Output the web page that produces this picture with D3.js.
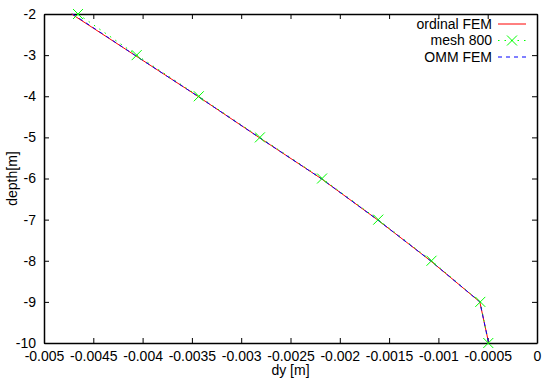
<!DOCTYPE html>
<html>
<head>
<meta charset="utf-8">
<script src="https://cdn.jsdelivr.net/npm/d3@7"></script>
<style>
body { margin: 0; background: #fff; }
svg text { font-family: "Liberation Sans", Arial, sans-serif; font-size: 14px; }
</style>
</head>
<body>
<div class="visHolder"></div>
<script>
var depth = [-2, -3, -4, -5, -6, -7, -8, -9, -10]
var ordinalFEM = [-0.00472, -0.00408, -0.00344, -0.00282, -0.00219, -0.00162, -0.00108, -0.00058, -0.00049]
var mesh800 = [-0.004655, -0.00406, -0.00343, -0.00281, -0.00218, -0.00161, -0.00107, -0.000575, -0.000494]
var ommFEM = [-0.00471, -0.00408, -0.00344, -0.00282, -0.00219, -0.00162, -0.00108, -0.00058, -0.00049]
var xTicks = [-0.005, -0.0045, -0.004, -0.0035, -0.003, -0.0025, -0.002, -0.0015, -0.001, -0.0005, 0]
var yTicks = [-2, -3, -4, -5, -6, -7, -8, -9, -10]
var seriesNames = ["ordinal FEM", "mesh 800", "OMM FEM"]

var width = 542
height = 378
margin = {left: 44, right: 5, top: 14, bottom: 35}

var svg = d3.select('.visHolder')
    .append('svg')
    .attr('width', width)
    .attr('height', height)

var xScale = d3.scaleLinear()
    .domain([-0.005, 0])
    .range([margin.left, width - margin.right])

var yScale = d3.scaleLinear()
    .domain([-10, -2])
    .range([height - margin.bottom, margin.top])

var fmt = d => d === 0 ? "0" : String(d)

// axes with inward ticks, mirrored on top and right
svg.append("g")
    .attr("transform", `translate(0,${yScale(-10)})`)
    .call(d3.axisBottom(xScale).tickValues(xTicks).tickFormat(fmt).tickSizeInner(-5).tickSizeOuter(0).tickPadding(8))
svg.append("g")
    .attr("transform", `translate(0,${yScale(-2)})`)
    .call(d3.axisTop(xScale).tickValues(xTicks).tickFormat("").tickSizeInner(-5).tickSizeOuter(0))
svg.append("g")
    .attr("transform", `translate(${xScale(-0.005)},0)`)
    .call(d3.axisLeft(yScale).tickValues(yTicks).tickFormat(fmt).tickSizeInner(-5).tickSizeOuter(0).tickPadding(8))
svg.append("g")
    .attr("transform", `translate(${xScale(0)},0)`)
    .call(d3.axisRight(yScale).tickValues(yTicks).tickFormat("").tickSizeInner(-5).tickSizeOuter(0))

svg.selectAll(".domain").attr("stroke", "#000").attr("stroke-width", 1.5)
svg.selectAll(".tick line").attr("stroke", "#000")
svg.selectAll(".tick text").attr("fill", "#000").style("font-size", "14px")

svg.append("text")
    .attr("x", (xScale(-0.005) + xScale(0)) / 2)
    .attr("y", height - 3)
    .attr("text-anchor", "middle")
    .text("dy [m]")

svg.append("text")
    .attr("transform", `translate(17,${(yScale(-2) + yScale(-10)) / 2}) rotate(-90)`)
    .attr("text-anchor", "middle")
    .text("depth[m]")

var line = d3.line()
    .x(d => xScale(d[0]))
    .y(d => yScale(d[1]))

var styles = [
    {color: "#ff0000", dash: null, data: ordinalFEM},
    {color: "#00ff00", dash: "1.5,5", data: mesh800},
    {color: "#0000ff", dash: "4,4", data: ommFEM}
]

styles.forEach(function(s) {
    svg.append("path")
        .datum(s.data.map((v, i) => [v, depth[i]]))
        .attr("d", line)
        .attr("fill", "none")
        .attr("stroke", s.color)
        .attr("stroke-width", 1)
        .attr("stroke-dasharray", s.dash)
})

// X markers for mesh 800
var cross = d3.symbol().type(d3.symbolCross).size(0)
svg.selectAll(".marker")
    .data(mesh800.map((v, i) => [v, depth[i]]))
    .enter()
    .append("path")
    .attr("class", "marker")
    .attr("d", "M-5,-5L5,5M-5,5L5,-5")
    .attr("transform", d => `translate(${xScale(d[0])},${yScale(d[1])})`)
    .attr("stroke", "#00ff00")
    .attr("stroke-width", 1)
    .attr("fill", "none")

// legend
var legend = svg.append("g")
seriesNames.forEach(function(name, i) {
    var y = 24 + i * 16.5
    legend.append("text")
        .attr("x", 492)
        .attr("y", y)
        .attr("dy", "0.35em")
        .attr("text-anchor", "end")
        .text(name)
    legend.append("line")
        .attr("x1", 498).attr("x2", 526)
        .attr("y1", y).attr("y2", y)
        .attr("stroke", styles[i].color)
        .attr("stroke-dasharray", styles[i].dash)
    if (i === 1) {
        legend.append("path")
            .attr("d", "M-5,-5L5,5M-5,5L5,-5")
            .attr("transform", `translate(512,${y})`)
            .attr("stroke", "#00ff00")
            .attr("fill", "none")
    }
})
</script>
</body>
</html>
